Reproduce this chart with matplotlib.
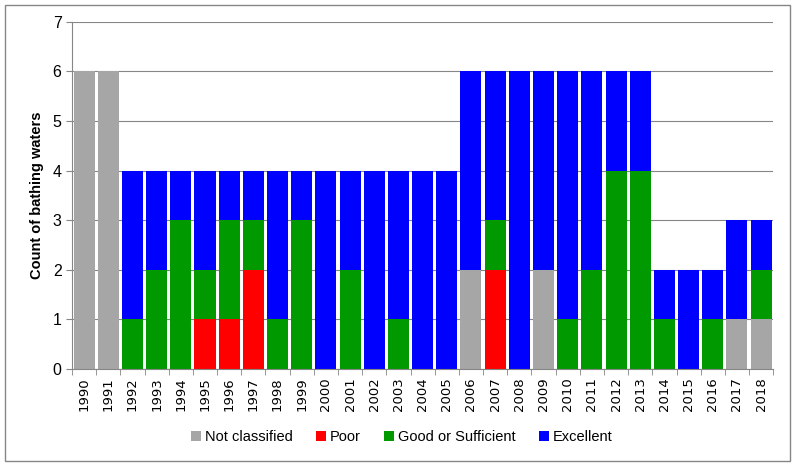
import numpy as np
import matplotlib.pyplot as plt
from matplotlib.patches import Rectangle

plt.rcParams.update({'font.size': 10, 'font.family': ['Liberation Sans', 'DejaVu Sans']})

years = [str(y) for y in range(1990, 2019)]
not_classified = [6, 6, 0, 0, 0, 0, 0, 0, 0, 0, 0, 0, 0, 0, 0, 0, 2, 0, 0, 2, 0, 0, 0, 0, 0, 0, 0, 1, 1]
poor = [0, 0, 0, 0, 0, 1, 1, 2, 0, 0, 0, 0, 0, 0, 0, 0, 0, 2, 0, 0, 0, 0, 0, 0, 0, 0, 0, 0, 0]
good = [0, 0, 1, 2, 3, 1, 2, 1, 1, 3, 0, 2, 0, 1, 0, 0, 0, 1, 0, 0, 1, 2, 4, 4, 1, 0, 1, 0, 1]
excellent = [0, 0, 3, 2, 1, 2, 1, 1, 3, 1, 4, 2, 4, 3, 4, 4, 4, 3, 6, 4, 5, 4, 2, 2, 1, 2, 1, 2, 1]

series = [
    ('Not classified', not_classified, '#A6A6A6'),
    ('Poor', poor, '#FF0000'),
    ('Good or Sufficient', good, '#009900'),
    ('Excellent', excellent, '#0000FF'),
]

fig = plt.figure(figsize=(7.95, 4.66), dpi=100)
ax = fig.add_axes([0.0906, 0.208, 0.882, 0.745])

x = np.arange(len(years))
bottom = np.zeros(len(years))
for name, vals, col in series:
    vals = np.array(vals, dtype=float)
    ax.bar(x, vals, bottom=bottom, width=0.87, color=col, label=name, zorder=2)
    bottom += vals

ax.set_xlim(-0.5, len(years) - 0.5)
ax.set_ylim(0, 7)
ax.set_yticks(range(0, 8))
ax.set_xticks(x)
ax.set_xticklabels(years, rotation=90, fontfamily='DejaVu Sans', fontsize=9.5)
ax.yaxis.grid(True, color='#868686', linewidth=0.8, zorder=0)
ax.set_axisbelow(True)
for s in ['top', 'right']:
    ax.spines[s].set_visible(False)
for s in ['left', 'bottom']:
    ax.spines[s].set_color('#868686')
ax.tick_params(axis='y', length=4, color='#868686', labelsize=11.5)
ax.set_xticks(np.arange(-0.5, len(years)), minor=True)
ax.tick_params(axis='x', which='major', length=0, pad=6)
ax.tick_params(axis='x', which='minor', length=4, color='#868686')
ax.set_ylabel('Count of bathing waters', fontweight='bold', fontsize=10.5, labelpad=6)

fig.legend(loc='center', bbox_to_anchor=(0.505, 0.062), ncol=4, frameon=False,
           handlelength=0.7, handleheight=0.7, handletextpad=0.25, columnspacing=1.6,
           fontsize=10.5)

fig.patches.append(Rectangle((0.006, 0.01), 0.988, 0.98, transform=fig.transFigure,
                             fill=False, edgecolor='#868686', linewidth=1))

fig.savefig('out.png', dpi=100)
